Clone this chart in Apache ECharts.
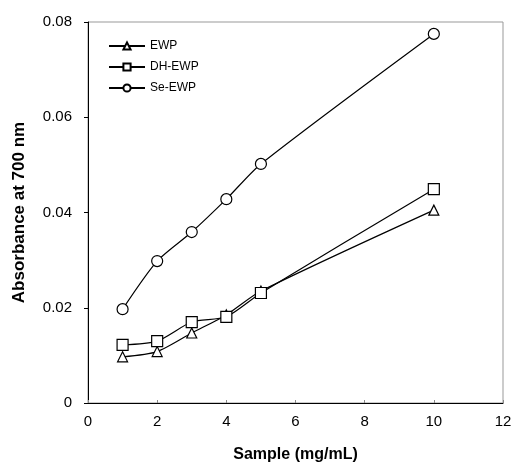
<!DOCTYPE html>
<html>
<head>
<meta charset="utf-8">
<script src="https://cdn.jsdelivr.net/npm/echarts@6/dist/echarts.min.js"></script>
<style>html,body{margin:0;padding:0;background:#fff}#c{width:515px;height:472px}</style>
</head>
<body>
<div id="c"></div>
<script>
var xValues = [1, 2, 3, 4, 5, 10];
var ewp = [0.0097, 0.0108, 0.0147, 0.0185, 0.0235, 0.0405];
var dhEwp = [0.0122, 0.0130, 0.0170, 0.0181, 0.0231, 0.0449];
var seEwp = [0.0197, 0.0298, 0.0359, 0.0428, 0.0502, 0.0775];
var xTicks = [0, 2, 4, 6, 8, 10, 12];
var yTicks = [0, 0.02, 0.04, 0.06, 0.08];

function pairs(v) { return xValues.map(function (x, i) { return [x, v[i]]; }); }

var chart = echarts.init(document.getElementById('c'), null, {renderer: 'canvas'});
var font = 'Liberation Sans, Arial, sans-serif';
function series(name, data, symbol, size) {
  return {
    name: name, type: 'line', data: pairs(data), smooth: 0.25,
    symbol: symbol, symbolSize: size, showSymbol: true,
    lineStyle: {color: '#000', width: 1.2},
    itemStyle: {color: '#fff', borderColor: '#000', borderWidth: 1.2},
    z: 3
  };
}
chart.setOption({
  animation: false,
  backgroundColor: '#fff',
  grid: {left: 88, right: 12, top: 22, bottom: 69, show: true, borderColor: '#999', borderWidth: 1},
  legend: {
    orient: 'vertical', left: 103, top: 35, itemWidth: 36, itemHeight: 9, itemGap: 9,
    textStyle: {fontFamily: font, fontSize: 12, color: '#000'},
    data: ['EWP', 'DH-EWP', 'Se-EWP']
  },
  xAxis: {
    type: 'value', min: 0, max: 12, interval: 2,
    name: 'Sample (mg/mL)', nameLocation: 'middle', nameGap: 44,
    nameTextStyle: {fontFamily: font, fontSize: 16, fontWeight: 'bold', color: '#000'},
    axisLine: {show: true, lineStyle: {color: '#000', width: 1}},
    axisTick: {show: true, inside: true, length: 3, lineStyle: {color: '#888'}},
    axisLabel: {fontFamily: font, fontSize: 15, color: '#000', margin: 11,
      formatter: function (v) { return xTicks.indexOf(v) >= 0 ? String(v) : ''; }},
    splitLine: {show: false}
  },
  yAxis: {
    type: 'value', min: 0, max: 0.08, interval: 0.02,
    name: 'Absorbance at 700 nm', nameLocation: 'middle', nameGap: 60,
    nameTextStyle: {fontFamily: font, fontSize: 17, fontWeight: 'bold', color: '#000'},
    axisLine: {show: true, lineStyle: {color: '#000', width: 1}},
    axisTick: {show: true, inside: false, length: 4, lineStyle: {color: '#000'}},
    axisLabel: {fontFamily: font, fontSize: 15, color: '#000', margin: 16,
      formatter: function (v) {
        var t = yTicks.filter(function (y) { return Math.abs(y - v) < 1e-9; });
        return t.length ? (v === 0 ? '0' : v.toFixed(2)) : '';
      }},
    splitLine: {show: false}
  },
  series: [
    series('EWP', ewp, 'triangle', 10),
    series('DH-EWP', dhEwp, 'rect', 11),
    series('Se-EWP', seEwp, 'circle', 11)
  ]
});
</script>
</body>
</html>
